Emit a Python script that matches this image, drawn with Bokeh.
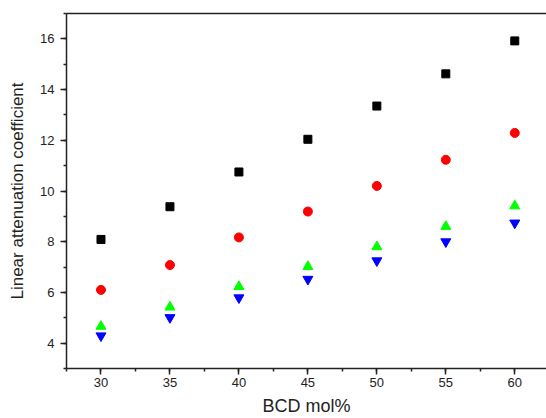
from bokeh.plotting import figure
from bokeh.models import Range1d, SingleIntervalTicker, LinearAxis, FixedTicker, ColumnDataSource
from bokeh.embed import file_html
from bokeh.resources import INLINE

bcd_mol = [30, 35, 40, 45, 50, 55, 60]
series_black = [8.09, 9.38, 10.75, 12.04, 13.35, 14.62, 15.92]
series_red = [6.10, 7.08, 8.17, 9.19, 10.20, 11.23, 12.29]
series_green = [4.66, 5.42, 6.23, 7.02, 7.80, 8.60, 9.41]
series_blue = [4.29, 5.01, 5.79, 6.52, 7.25, 8.00, 8.74]

FONT = "Liberation Sans"

p = figure(width=546, height=418, output_backend="svg", toolbar_location=None,
           x_range=Range1d(27.5, 62.3), y_range=Range1d(3, 17),
           min_border_left=66, min_border_right=0, min_border_top=13, min_border_bottom=49)
p.background_fill_color = "white"
p.border_fill_color = "white"
p.outline_line_color = None
p.grid.visible = False

src = ColumnDataSource(dict(x=bcd_mol, k=series_black, r=series_red, g=series_green, b=series_blue))
p.scatter("x", "k", source=src, marker="square", size=8, fill_color="black", line_color="black")
p.scatter("x", "r", source=src, marker="circle", size=9, fill_color="red", line_color="red")
p.scatter("x", "g", source=src, marker="triangle", size=10, fill_color="#00ff00", line_color="#00ff00")
p.scatter("x", "b", source=src, marker="inverted_triangle", size=10, fill_color="blue", line_color="blue")

p.xaxis.ticker = SingleIntervalTicker(interval=5, num_minor_ticks=2)
p.yaxis.ticker = SingleIntervalTicker(interval=2, num_minor_ticks=2)

for ax in (p.xaxis[0], p.yaxis[0]):
    ax.axis_line_width = 1.5
    ax.axis_line_color = "#222222"
    ax.major_tick_line_color = "#222222"
    ax.minor_tick_line_color = "#222222"
    ax.major_tick_line_width = 1.5
    ax.minor_tick_line_width = 1.5
    ax.major_tick_out = 6
    ax.major_tick_in = 0
    ax.minor_tick_out = 3
    ax.minor_tick_in = 0
    ax.major_label_text_font = FONT
    ax.major_label_text_font_size = "13px"
    ax.major_label_text_color = "#222222"
    ax.axis_label_text_font = FONT
    ax.axis_label_text_font_style = "normal"
    ax.axis_label_text_color = "#222222"

p.xaxis.axis_label = "BCD mol%"
p.xaxis.axis_label_text_font_size = "18px"
p.xaxis.major_label_standoff = 3
p.xaxis.axis_label_standoff = 6
p.yaxis.axis_label = "Linear attenuation coefficient"
p.yaxis.axis_label_text_font_size = "17px"
p.yaxis.major_label_standoff = 6
p.yaxis.axis_label_standoff = 10

top = LinearAxis(ticker=FixedTicker(ticks=[]), axis_line_width=1.5, axis_line_color="#222222",
                 major_tick_out=0, minor_tick_out=0, major_label_standoff=0,
                 major_label_text_font_size="0px")
p.add_layout(top, "above")

open("out.html", "w").write(file_html(p, INLINE))
